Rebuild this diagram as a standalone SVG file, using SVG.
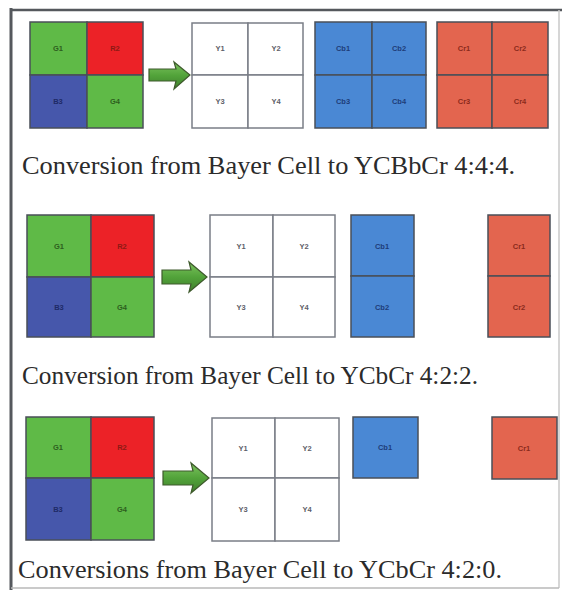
<svg xmlns="http://www.w3.org/2000/svg" width="562" height="590" viewBox="0 0 562 590">
<defs>
<style>
.cell{stroke:#4a4f58;stroke-width:1.5}
.g{fill:#5fba47}.r{fill:#ec2227}.b{fill:#4657ab}.y{fill:#ffffff;stroke:#7a7e86}.cb{fill:#4a88d4}.cr{fill:#e3654f}
.t{font-family:"Liberation Sans",Arial,sans-serif;font-size:7.5px;font-weight:bold;text-anchor:middle;dominant-baseline:central}
.tg{fill:#2d5e1e}.tr{fill:#8c1a14}.tb{fill:#1e2a66}.ty{fill:#5d6068}.tcb{fill:#1e3c78}.tcr{fill:#8a2a1c}
.cap{font-family:"Liberation Serif","Times New Roman",serif;font-size:26px;fill:#2b2b2b}
.arrow{fill:url(#ag);stroke:#3e5a2c;stroke-width:1.2}
</style>
<linearGradient id="ag" x1="0" y1="0" x2="0" y2="1">
<stop offset="0" stop-color="#7cc35e"/><stop offset="0.5" stop-color="#52a33a"/><stop offset="1" stop-color="#3f7f2c"/>
</linearGradient>
</defs>
<rect width="562" height="590" fill="#ffffff"/>
<g id="frame">
<line x1="11" y1="8" x2="11" y2="590" stroke="#55585d" stroke-width="3"/>
<line x1="10" y1="10" x2="562" y2="10" stroke="#55585d" stroke-width="2.5"/>
<line x1="559" y1="10" x2="559" y2="588" stroke="#c8c8c8" stroke-width="1.5"/>
<line x1="11" y1="588" x2="559" y2="588" stroke="#b8b8b8" stroke-width="1.5"/>
</g>

<!-- Section 1 -->
<g id="bayer1">
<rect class="cell g" x="30" y="22" width="57" height="53"/>
<rect class="cell r" x="87" y="22" width="56" height="53"/>
<rect class="cell b" x="30" y="75" width="57" height="53"/>
<rect class="cell g" x="87" y="75" width="56" height="53"/>
<text class="t tg" x="58" y="48">G1</text><text class="t tr" x="115" y="48">R2</text>
<text class="t tb" x="58" y="101">B3</text><text class="t tg" x="115" y="101">G4</text>
</g>
<g id="y1">
<rect class="cell y" x="192" y="23" width="56" height="52"/>
<rect class="cell y" x="248" y="23" width="55" height="52"/>
<rect class="cell y" x="192" y="75" width="56" height="53"/>
<rect class="cell y" x="248" y="75" width="55" height="53"/>
<text class="t ty" x="220" y="48">Y1</text><text class="t ty" x="276" y="48">Y2</text>
<text class="t ty" x="220" y="101">Y3</text><text class="t ty" x="276" y="101">Y4</text>
</g>
<g id="cb1">
<rect class="cell cb" x="315" y="22" width="57" height="53"/>
<rect class="cell cb" x="372" y="22" width="54" height="53"/>
<rect class="cell cb" x="315" y="75" width="57" height="53"/>
<rect class="cell cb" x="372" y="75" width="54" height="53"/>
<text class="t tcb" x="343" y="48">Cb1</text><text class="t tcb" x="399" y="48">Cb2</text>
<text class="t tcb" x="343" y="101">Cb3</text><text class="t tcb" x="399" y="101">Cb4</text>
</g>
<g id="cr1">
<rect class="cell cr" x="437" y="22" width="55" height="53"/>
<rect class="cell cr" x="492" y="22" width="56" height="53"/>
<rect class="cell cr" x="437" y="75" width="55" height="53"/>
<rect class="cell cr" x="492" y="75" width="56" height="53"/>
<text class="t tcr" x="464" y="48">Cr1</text><text class="t tcr" x="520" y="48">Cr2</text>
<text class="t tcr" x="464" y="101">Cr3</text><text class="t tcr" x="520" y="101">Cr4</text>
</g>
<text id="cap1" class="cap" x="22" y="174" textLength="493" lengthAdjust="spacingAndGlyphs">Conversion from Bayer Cell to YCBbCr 4:4:4.</text>

<!-- Section 2 -->
<g id="bayer2">
<rect class="cell g" x="27" y="215" width="64" height="62"/>
<rect class="cell r" x="91" y="215" width="63" height="62"/>
<rect class="cell b" x="27" y="277" width="64" height="60"/>
<rect class="cell g" x="91" y="277" width="63" height="60"/>
<text class="t tg" x="59" y="246">G1</text><text class="t tr" x="122" y="246">R2</text>
<text class="t tb" x="59" y="307">B3</text><text class="t tg" x="122" y="307">G4</text>
</g>
<g id="y2">
<rect class="cell y" x="210" y="215" width="63" height="62"/>
<rect class="cell y" x="273" y="215" width="62" height="62"/>
<rect class="cell y" x="210" y="277" width="63" height="60"/>
<rect class="cell y" x="273" y="277" width="62" height="60"/>
<text class="t ty" x="241" y="246">Y1</text><text class="t ty" x="304" y="246">Y2</text>
<text class="t ty" x="241" y="307">Y3</text><text class="t ty" x="304" y="307">Y4</text>
</g>
<g id="cb2">
<rect class="cell cb" x="351" y="215" width="63" height="61"/>
<rect class="cell cb" x="351" y="276" width="63" height="61"/>
<text class="t tcb" x="382" y="246">Cb1</text><text class="t tcb" x="382" y="307">Cb2</text>
</g>
<g id="cr2">
<rect class="cell cr" x="488" y="215" width="62" height="61"/>
<rect class="cell cr" x="488" y="276" width="62" height="61"/>
<text class="t tcr" x="519" y="246">Cr1</text><text class="t tcr" x="519" y="307">Cr2</text>
</g>
<text id="cap2" class="cap" x="22" y="384" textLength="456" lengthAdjust="spacingAndGlyphs">Conversion from Bayer Cell to YCbCr 4:2:2.</text>

<!-- Section 3 -->
<g id="bayer3">
<rect class="cell g" x="26" y="417" width="65" height="61"/>
<rect class="cell r" x="91" y="417" width="63" height="61"/>
<rect class="cell b" x="26" y="478" width="65" height="62"/>
<rect class="cell g" x="91" y="478" width="63" height="62"/>
<text class="t tg" x="58" y="447">G1</text><text class="t tr" x="122" y="447">R2</text>
<text class="t tb" x="58" y="509">B3</text><text class="t tg" x="122" y="509">G4</text>
</g>
<g id="y3">
<rect class="cell y" x="212" y="418" width="63" height="60"/>
<rect class="cell y" x="275" y="418" width="64" height="60"/>
<rect class="cell y" x="212" y="478" width="63" height="63"/>
<rect class="cell y" x="275" y="478" width="64" height="63"/>
<text class="t ty" x="243" y="448">Y1</text><text class="t ty" x="307" y="448">Y2</text>
<text class="t ty" x="243" y="509">Y3</text><text class="t ty" x="307" y="509">Y4</text>
</g>
<g id="cb3">
<rect class="cell cb" x="353" y="417" width="65" height="61"/>
<text class="t tcb" x="385" y="447">Cb1</text>
</g>
<g id="cr3">
<rect class="cell cr" x="492" y="417" width="65" height="62"/>
<text class="t tcr" x="524" y="448">Cr1</text>
</g>
<text id="cap3" class="cap" x="18" y="578" textLength="484" lengthAdjust="spacingAndGlyphs">Conversions from Bayer Cell to YCbCr 4:2:0.</text>

<g id="connectors">
<path class="arrow" d="M149,69 L176,69 L174,62 L190,75 L174,89 L176,81 L149,81 Z"/>
<path class="arrow" d="M162,270 L191,270 L189,262 L207,277 L189,292 L191,284 L162,284 Z"/>
<path class="arrow" d="M163,471 L193,471 L191,463 L209,478 L191,493 L193,485 L163,485 Z"/>
</g>
</svg>
